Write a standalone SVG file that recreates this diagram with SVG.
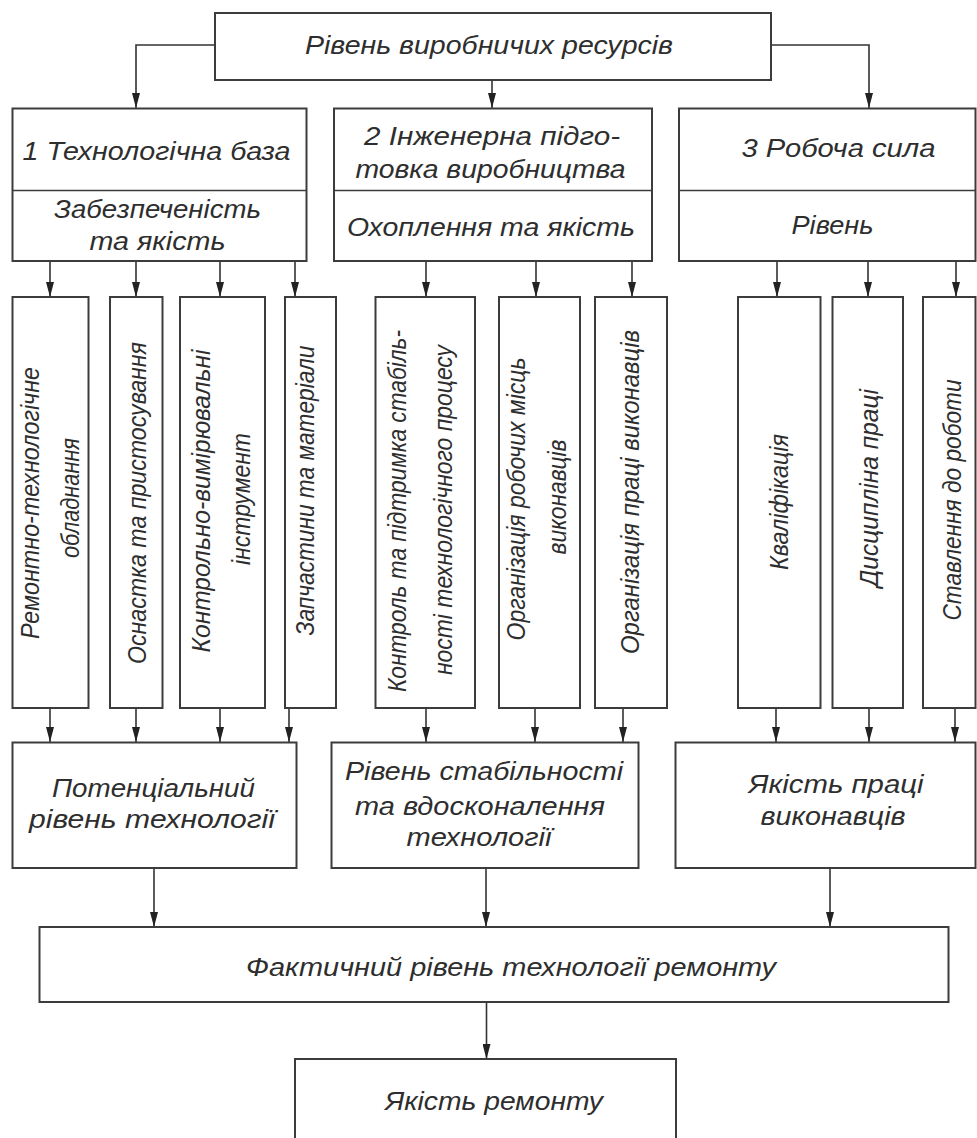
<svg xmlns="http://www.w3.org/2000/svg" width="977" height="1138" viewBox="0 0 977 1138">
<defs>
<style>
.box{fill:#fff;stroke:#3c3c3c;stroke-width:2}
.div{stroke:#3c3c3c;stroke-width:1.6}
.t{font-family:"Liberation Sans","DejaVu Sans",sans-serif;font-style:italic;font-size:26px;fill:#2e2e2e;text-anchor:middle}
.c{fill:none;stroke:#333;stroke-width:1.6}
</style>
<marker id="ah" viewBox="0 0 8 15" refX="4" refY="15" markerWidth="8" markerHeight="15" markerUnits="userSpaceOnUse" orient="0">
<path d="M0,0 L8,0 L4,15 z" fill="#222"/>
</marker>
</defs>
<rect width="977" height="1138" fill="#fff"/>

<g id="connectors">
<path class="c" d="M215,45 H136 V108" marker-end="url(#ah)"/>
<path class="c" d="M771,45 H869 V108" marker-end="url(#ah)"/>
<path class="c" d="M492,80 V108" marker-end="url(#ah)"/>
<path class="c" d="M50,261 V297" marker-end="url(#ah)"/>
<path class="c" d="M136,261 V297" marker-end="url(#ah)"/>
<path class="c" d="M220,261 V297" marker-end="url(#ah)"/>
<path class="c" d="M295,261 V297" marker-end="url(#ah)"/>
<path class="c" d="M426,261 V297" marker-end="url(#ah)"/>
<path class="c" d="M536,261 V297" marker-end="url(#ah)"/>
<path class="c" d="M632,261 V297" marker-end="url(#ah)"/>
<path class="c" d="M777,261 V297" marker-end="url(#ah)"/>
<path class="c" d="M868,261 V297" marker-end="url(#ah)"/>
<path class="c" d="M956,261 V297" marker-end="url(#ah)"/>
<path class="c" d="M50,708 V742" marker-end="url(#ah)"/>
<path class="c" d="M136,708 V742" marker-end="url(#ah)"/>
<path class="c" d="M220,708 V742" marker-end="url(#ah)"/>
<path class="c" d="M289,708 V742" marker-end="url(#ah)"/>
<path class="c" d="M426,708 V742" marker-end="url(#ah)"/>
<path class="c" d="M535,708 V742" marker-end="url(#ah)"/>
<path class="c" d="M623,708 V742" marker-end="url(#ah)"/>
<path class="c" d="M776,708 V742" marker-end="url(#ah)"/>
<path class="c" d="M869,708 V742" marker-end="url(#ah)"/>
<path class="c" d="M955,708 V742" marker-end="url(#ah)"/>
<path class="c" d="M154,868 V927" marker-end="url(#ah)"/>
<path class="c" d="M486,868 V927" marker-end="url(#ah)"/>
<path class="c" d="M830,868 V927" marker-end="url(#ah)"/>
<path class="c" d="M486.5,1002 V1059" marker-end="url(#ah)"/>
</g>

<g id="top">
<rect class="box" x="215" y="13" width="556" height="67"/>
<text class="t" x="489" y="54" textLength="368" lengthAdjust="spacingAndGlyphs">Рівень виробничих ресурсів</text>
</g>

<g id="cat1">
<rect class="box" x="12.5" y="108.5" width="294" height="152.5"/>
<line class="div" x1="12.5" y1="190.5" x2="306.5" y2="190.5"/>
<text class="t" x="156.5" y="160" textLength="268" lengthAdjust="spacingAndGlyphs">1 Технологічна база</text>
<text class="t" x="157.5" y="218" textLength="207" lengthAdjust="spacingAndGlyphs">Забезпеченість</text>
<text class="t" x="157.5" y="250" textLength="136" lengthAdjust="spacingAndGlyphs">та якість</text>
</g>

<g id="cat2">
<rect class="box" x="334" y="108.5" width="318" height="152.5"/>
<line class="div" x1="334" y1="190.5" x2="652" y2="190.5"/>
<text class="t" x="492" y="145" textLength="256" lengthAdjust="spacingAndGlyphs">2 Інженерна підго-</text>
<text class="t" x="490.5" y="178" textLength="270" lengthAdjust="spacingAndGlyphs">товка виробництва</text>
<text class="t" x="491" y="236" textLength="288" lengthAdjust="spacingAndGlyphs">Охоплення та якість</text>
</g>

<g id="cat3">
<rect class="box" x="679" y="108.5" width="296.5" height="152.5"/>
<line class="div" x1="679" y1="190.5" x2="975.5" y2="190.5"/>
<text class="t" x="838.5" y="157" textLength="194" lengthAdjust="spacingAndGlyphs">3 Робоча сила</text>
<text class="t" x="832.5" y="234" textLength="82" lengthAdjust="spacingAndGlyphs">Рівень</text>
</g>

<g id="v1">
<rect class="box" x="12.5" y="297" width="76" height="411"/>
<text class="t" transform="translate(39,503) rotate(-90)" textLength="272" lengthAdjust="spacingAndGlyphs">Ремонтно-технологічне</text>
<text class="t" transform="translate(79,498) rotate(-90)" textLength="120" lengthAdjust="spacingAndGlyphs">обладнання</text>
</g>
<g id="v2">
<rect class="box" x="110" y="297" width="52.5" height="411"/>
<text class="t" transform="translate(146,503) rotate(-90)" textLength="322" lengthAdjust="spacingAndGlyphs">Оснастка та пристосування</text>
</g>
<g id="v3">
<rect class="box" x="180" y="297" width="85" height="411"/>
<text class="t" transform="translate(210,501) rotate(-90)" textLength="303" lengthAdjust="spacingAndGlyphs">Контрольно-вимірювальні</text>
<text class="t" transform="translate(250,499) rotate(-90)" textLength="132" lengthAdjust="spacingAndGlyphs">інструмент</text>
</g>
<g id="v4">
<rect class="box" x="285" y="297" width="51" height="411"/>
<text class="t" transform="translate(314,490.5) rotate(-90)" textLength="290" lengthAdjust="spacingAndGlyphs">Запчастини та матеріали</text>
</g>
<g id="v5">
<rect class="box" x="375.5" y="297" width="99.5" height="411"/>
<text class="t" transform="translate(406,511) rotate(-90)" textLength="362" lengthAdjust="spacingAndGlyphs">Контроль та підтримка стабіль-</text>
<text class="t" transform="translate(452,510) rotate(-90)" textLength="330" lengthAdjust="spacingAndGlyphs">ності технологічного процесу</text>
</g>
<g id="v6">
<rect class="box" x="499" y="297" width="81" height="411"/>
<text class="t" transform="translate(525,499) rotate(-90)" textLength="283" lengthAdjust="spacingAndGlyphs">Організація робочих місць</text>
<text class="t" transform="translate(566,497) rotate(-90)" textLength="115" lengthAdjust="spacingAndGlyphs">виконавців</text>
</g>
<g id="v7">
<rect class="box" x="595" y="297" width="72" height="411"/>
<text class="t" transform="translate(639,492) rotate(-90)" textLength="324" lengthAdjust="spacingAndGlyphs">Організація праці виконавців</text>
</g>
<g id="v8">
<rect class="box" x="738" y="297" width="82.5" height="411"/>
<text class="t" transform="translate(788,502) rotate(-90)" textLength="136" lengthAdjust="spacingAndGlyphs">Кваліфікація</text>
</g>
<g id="v9">
<rect class="box" x="832.5" y="297" width="70.5" height="411"/>
<text class="t" transform="translate(878,488) rotate(-90)" textLength="198" lengthAdjust="spacingAndGlyphs">Дисципліна праці</text>
</g>
<g id="v10">
<rect class="box" x="923" y="297" width="52.5" height="411"/>
<text class="t" transform="translate(961,500) rotate(-90)" textLength="241" lengthAdjust="spacingAndGlyphs">Ставлення до роботи</text>
</g>

<g id="b1">
<rect class="box" x="12.5" y="742.5" width="284" height="125.5"/>
<text class="t" x="153.5" y="797" textLength="203" lengthAdjust="spacingAndGlyphs">Потенціальний</text>
<text class="t" x="152" y="828" textLength="246" lengthAdjust="spacingAndGlyphs">рівень технології</text>
</g>
<g id="b2">
<rect class="box" x="331.5" y="742.5" width="307" height="125.5"/>
<text class="t" x="484" y="780" textLength="278" lengthAdjust="spacingAndGlyphs">Рівень стабільності</text>
<text class="t" x="480" y="815" textLength="250" lengthAdjust="spacingAndGlyphs">та вдосконалення</text>
<text class="t" x="479" y="846" textLength="145" lengthAdjust="spacingAndGlyphs">технології</text>
</g>
<g id="b3">
<rect class="box" x="675.5" y="742.5" width="300" height="125.5"/>
<text class="t" x="836" y="793" textLength="175" lengthAdjust="spacingAndGlyphs">Якість праці</text>
<text class="t" x="833" y="825" textLength="145" lengthAdjust="spacingAndGlyphs">виконавців</text>
</g>

<g id="fact">
<rect class="box" x="39.5" y="927" width="909" height="75"/>
<text class="t" x="511" y="976" textLength="530" lengthAdjust="spacingAndGlyphs">Фактичний рівень технології ремонту</text>
</g>

<g id="final">
<rect class="box" x="295" y="1059" width="381" height="100"/>
<text class="t" x="494" y="1110" textLength="218" lengthAdjust="spacingAndGlyphs">Якість ремонту</text>
</g>
</svg>
